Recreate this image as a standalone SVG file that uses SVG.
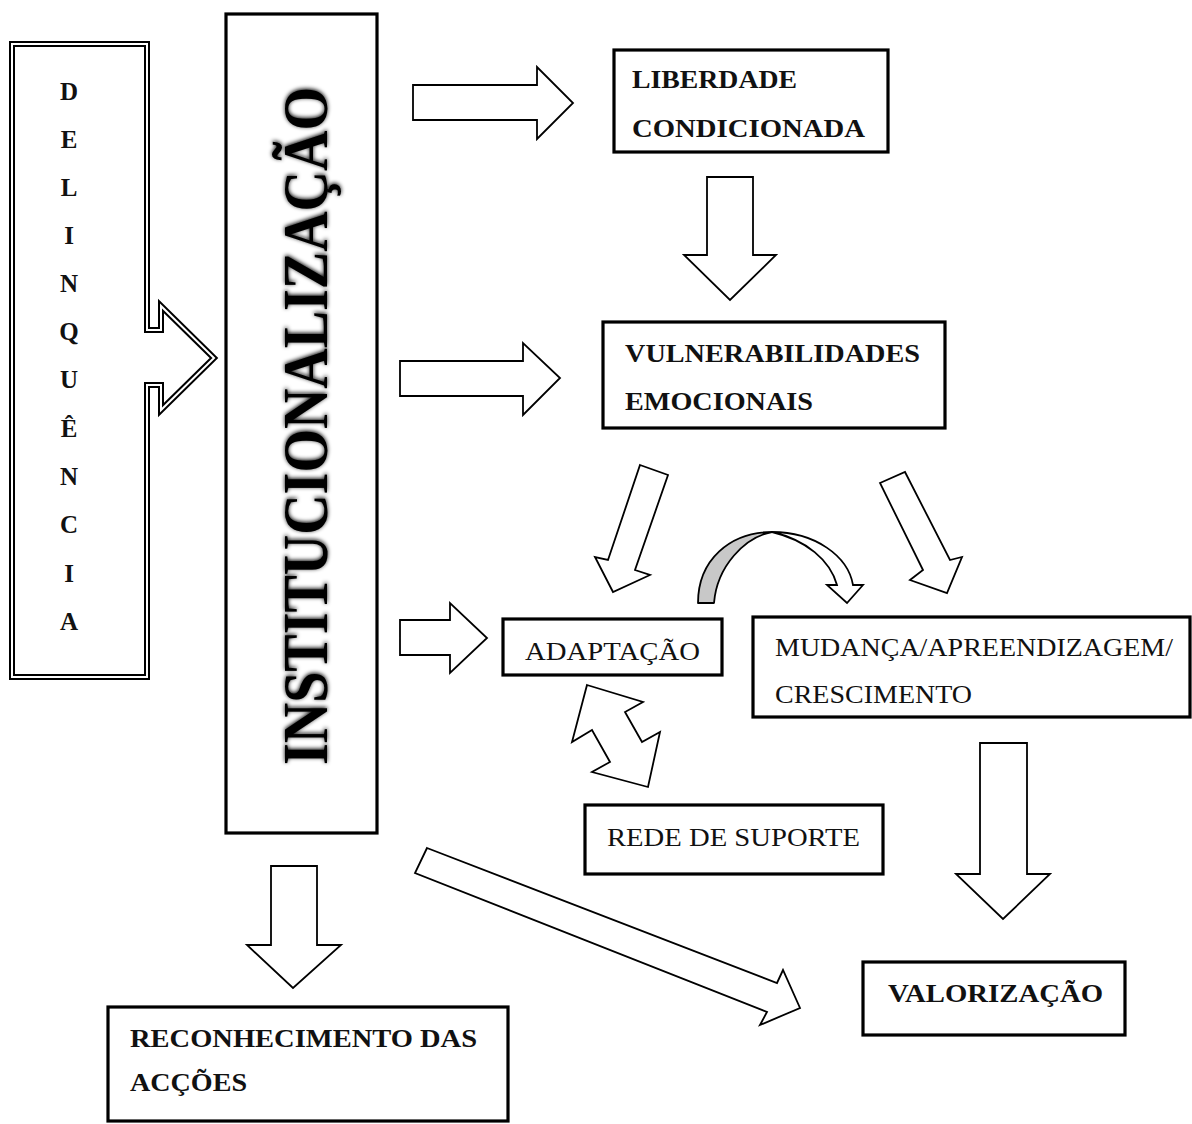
<svg xmlns="http://www.w3.org/2000/svg" width="1192" height="1124" viewBox="0 0 1192 1124">
<defs>
<style>
.box{fill:#fff;stroke:#000;stroke-width:3.2}
.arr{fill:#fff;stroke:#000;stroke-width:1.8;stroke-linejoin:miter}
.b{font-family:"Liberation Serif","Times New Roman",serif;font-weight:bold;font-size:26px;fill:#111}
.r{font-family:"Liberation Serif","Times New Roman",serif;font-size:26px;fill:#111}
.v{font-family:"Liberation Serif","Times New Roman",serif;font-weight:bold;font-size:25px;fill:#111;text-anchor:middle}
</style>
<filter id="glow" x="-10%" y="-40%" width="120%" height="180%">
<feGaussianBlur in="SourceAlpha" stdDeviation="2" result="b"/>
<feOffset in="b" dx="1" dy="0" result="o"/>
<feMerge><feMergeNode in="o"/><feMergeNode in="SourceGraphic"/></feMerge>
</filter>
</defs>
<rect width="1192" height="1124" fill="#fff"/>

<g id="connectors">
<polygon class="arr" points="413,85 537,85 537,67 573,103 537,139 537,120 413,120"/>
<polygon class="arr" points="707,177 753,177 753,255 776,255 730,300 684,255 707,255"/>
<polygon class="arr" points="400,361 523,361 523,343 560,378 523,415 523,396 400,396"/>
<polygon class="arr" points="400,620 450,620 450,603 487,638 450,673 450,655 400,655"/>
<polygon class="arr" points="640,465 668,475 635,570 650,575 613,592 595,557 608,560"/>
<polygon class="arr" points="880,483 905,472 950,560 962,557 947,593 910,580 923,570"/>
<path d="M698,603 C698,560 730,532 772,532 C745,537 717,566 714,603 Z" fill="#c8c8c8" stroke="#000" stroke-width="1.8" stroke-linejoin="round"/>
<path class="arr" d="M772,532 C815,532 848,556 853,585 L863,585 L847,603 L827,585 L837,585 C830,560 806,540 772,532 Z"/>
<polygon class="arr" points="587,685 643,702 625,712 642,742 660,732 648,787 592,772 610,762 592,730 572,742"/>
<polygon class="arr" points="980,743 1027,743 1027,874 1050,874 1003,919 956,874 980,874"/>
<polygon class="arr" points="271,866 317,866 317,945 341,945 293,988 247,945 271,945"/>
<polygon class="arr" points="427,848 777,983 783,970 800,1008 760,1025 767,1012 415,873"/>
</g>

<g id="delinquencia">
<path d="M12,44 H147 V330 H161 V306 L214,358 L161,410 V385 H147 V677 H12 Z" fill="#fff" stroke="#000" stroke-width="6" stroke-linejoin="miter"/>
<path d="M12,44 H147 V330 H161 V306 L214,358 L161,410 V385 H147 V677 H12 Z" fill="none" stroke="#fff" stroke-width="2" stroke-linejoin="miter"/>
<text class="v" x="69" y="100">D</text>
<text class="v" x="69" y="148">E</text>
<text class="v" x="69" y="196">L</text>
<text class="v" x="69" y="244">I</text>
<text class="v" x="69" y="292">N</text>
<text class="v" x="69" y="340">Q</text>
<text class="v" x="69" y="388">U</text>
<text class="v" x="69" y="437">Ê</text>
<text class="v" x="69" y="485">N</text>
<text class="v" x="69" y="533">C</text>
<text class="v" x="69" y="582">I</text>
<text class="v" x="69" y="630">A</text>
</g>

<g id="institucionalizacao">
<rect class="box" x="226" y="14" width="151" height="819"/>
<text transform="translate(327,765) rotate(-90) scale(1,1.14)" x="0" y="0" font-family="Liberation Serif, Times New Roman, serif" font-weight="bold" font-size="56" fill="#000" textLength="678" lengthAdjust="spacingAndGlyphs" filter="url(#glow)">INSTITUCIONALIZAÇÃO</text>
</g>

<g id="liberdade">
<rect class="box" x="614" y="50" width="274" height="102"/>
<text class="b" x="632" y="88" textLength="165" lengthAdjust="spacingAndGlyphs">LIBERDADE</text>
<text class="b" x="632" y="137" textLength="233" lengthAdjust="spacingAndGlyphs">CONDICIONADA</text>
</g>

<g id="vulnerabilidades">
<rect class="box" x="603" y="322" width="342" height="106"/>
<text class="b" x="625" y="362" textLength="295" lengthAdjust="spacingAndGlyphs">VULNERABILIDADES</text>
<text class="b" x="625" y="410" textLength="188" lengthAdjust="spacingAndGlyphs">EMOCIONAIS</text>
</g>

<g id="adaptacao">
<rect class="box" x="503" y="619" width="219" height="56"/>
<text class="r" x="525" y="660" textLength="175" lengthAdjust="spacingAndGlyphs">ADAPTAÇÃO</text>
</g>

<g id="mudanca">
<rect class="box" x="753" y="617" width="437" height="100"/>
<text class="r" x="775" y="656" textLength="398" lengthAdjust="spacingAndGlyphs">MUDANÇA/APREENDIZAGEM/</text>
<text class="r" x="775" y="703" textLength="197" lengthAdjust="spacingAndGlyphs">CRESCIMENTO</text>
</g>

<g id="rede">
<rect class="box" x="585" y="805" width="298" height="69"/>
<text class="r" x="607" y="846" textLength="253" lengthAdjust="spacingAndGlyphs">REDE DE SUPORTE</text>
</g>

<g id="valorizacao">
<rect class="box" x="863" y="962" width="262" height="73"/>
<text class="b" x="888" y="1002" textLength="215" lengthAdjust="spacingAndGlyphs">VALORIZAÇÃO</text>
</g>

<g id="reconhecimento">
<rect class="box" x="108" y="1007" width="400" height="114"/>
<text class="b" x="130" y="1047" textLength="347" lengthAdjust="spacingAndGlyphs">RECONHECIMENTO DAS</text>
<text class="b" x="130" y="1091" textLength="117" lengthAdjust="spacingAndGlyphs">ACÇÕES</text>
</g>
</svg>
